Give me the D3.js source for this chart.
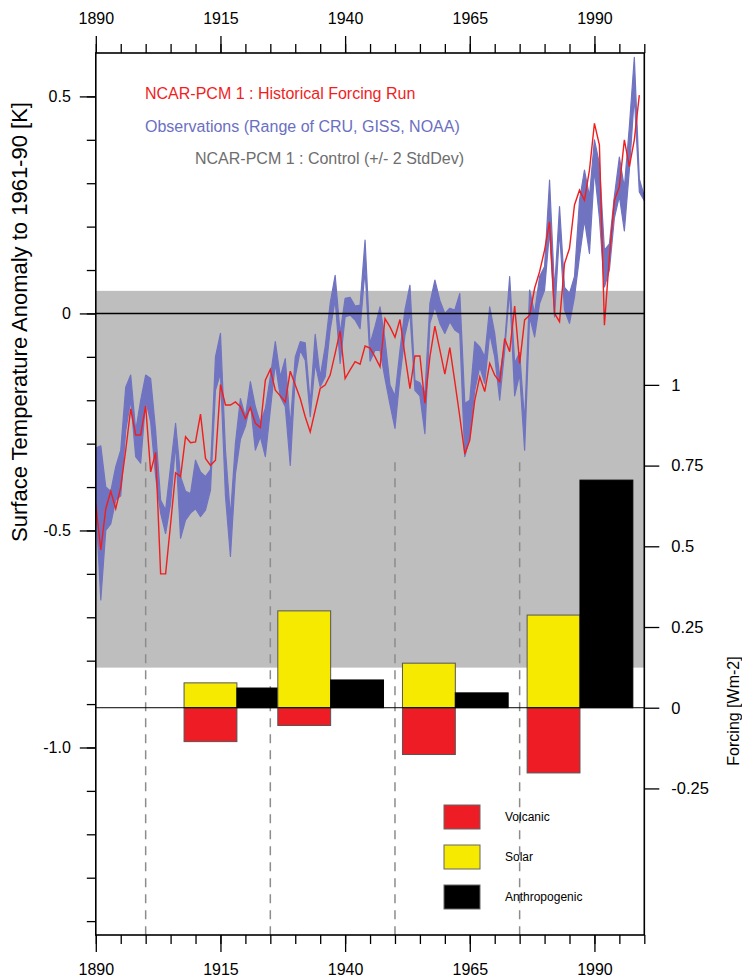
<!DOCTYPE html>
<html><head><meta charset="utf-8">
<script src="https://cdn.jsdelivr.net/npm/d3@7"></script>
<style>
body{margin:0;background:#fff}
text{font-family:"Liberation Sans",Arial,Helvetica,sans-serif}
</style>
</head><body>
<svg id="chart" width="742" height="979"></svg>
<script>
// ---------------- data ----------------
const modelYears = d3.range(1890, 2000);
const obsYears = d3.range(1890, 2001);
const modelRun = [
 -0.44,-0.545,-0.45,-0.41,-0.45,-0.40,-0.315,-0.22,-0.28,-0.28,
 -0.213,-0.365,-0.32,-0.60,-0.60,-0.485,-0.367,-0.376,-0.284,-0.298,
 -0.296,-0.232,-0.334,-0.35,-0.338,-0.164,-0.211,-0.211,-0.204,-0.215,
 -0.242,-0.217,-0.253,-0.263,-0.154,-0.129,-0.177,-0.19,-0.204,-0.133,
 -0.165,-0.196,-0.238,-0.273,-0.223,-0.173,-0.165,-0.142,-0.092,-0.04,
 -0.15,-0.13,-0.111,-0.117,-0.075,-0.08,-0.10,-0.123,-0.012,-0.031,
 -0.055,-0.014,-0.096,-0.173,-0.098,-0.098,-0.207,-0.10,-0.029,-0.084,
 -0.14,-0.079,-0.157,-0.238,-0.324,-0.292,-0.20,-0.146,-0.18,-0.115,
 -0.142,-0.157,-0.058,-0.088,0.017,-0.115,-0.015,-0.004,0.058,0.096,
 0.146,0.211,0.0,-0.019,0.115,0.15,0.25,0.284,0.261,0.33,
 0.438,0.388,-0.027,0.13,0.261,0.292,0.40,0.338,0.40,0.503
];
const obsHigh = [
 -0.31,-0.305,-0.40,-0.41,-0.353,-0.315,-0.17,-0.142,-0.27,-0.20,
 -0.142,-0.15,-0.27,-0.43,-0.453,-0.353,-0.253,-0.376,-0.41,-0.415,
 -0.338,-0.365,-0.376,-0.36,-0.10,-0.046,-0.315,-0.468,-0.30,-0.196,
 -0.238,-0.157,-0.215,-0.253,-0.219,-0.146,-0.065,-0.146,-0.104,-0.26,
 -0.10,-0.065,-0.068,-0.207,-0.048,-0.146,-0.077,0.023,0.088,-0.046,
 0.035,0.037,0.017,0.019,0.169,-0.07,-0.03,0.015,-0.06,-0.165,
 -0.19,-0.085,0.008,0.065,-0.154,-0.16,-0.185,0.023,0.077,0.03,
 0.0,0.012,0.008,0.046,-0.207,-0.2,-0.065,-0.077,-0.1,0.015,
 -0.046,-0.146,-0.069,0.085,-0.115,-0.09,-0.25,0.054,0.0,0.085,
 0.108,0.307,0.054,0.246,0.06,0.046,0.085,0.26,0.33,0.27,
 0.40,0.345,0.146,0.16,0.27,0.36,0.29,0.43,0.59,0.31,
 0.27
];
const obsLow = [
 -0.44,-0.66,-0.50,-0.485,-0.43,-0.42,-0.27,-0.20,-0.33,-0.345,
 -0.20,-0.25,-0.376,-0.46,-0.507,-0.438,-0.30,-0.518,-0.476,-0.46,
 -0.45,-0.468,-0.453,-0.407,-0.177,-0.138,-0.42,-0.56,-0.37,-0.29,
 -0.26,-0.207,-0.315,-0.284,-0.33,-0.223,-0.115,-0.192,-0.215,-0.35,
 -0.146,-0.085,-0.108,-0.238,-0.115,-0.169,-0.146,-0.038,0.031,-0.115,
 -0.008,-0.004,-0.015,-0.035,0.10,-0.11,-0.085,-0.085,-0.15,-0.21,
 -0.265,-0.146,-0.05,0.0,-0.177,-0.19,-0.277,-0.023,0.015,-0.023,
 -0.046,-0.019,-0.038,-0.046,-0.33,-0.285,-0.177,-0.123,-0.161,-0.046,
 -0.1,-0.2,-0.085,0.054,-0.19,-0.14,-0.315,-0.008,-0.054,0.023,
 0.054,0.19,-0.008,0.19,0.008,-0.023,0.038,0.13,0.215,0.138,
 0.33,0.22,0.061,0.10,0.22,0.27,0.19,0.33,0.50,0.28,
 0.26
];
const controlBand = [0.052, -0.816];      // K, +/- 2 StdDev band of control run
const periodStarts = [1900, 1925, 1950, 1975];
const barStartYears = [1907.7, 1926.5, 1951.5, 1976.5];
const solar = [0.077, 0.30, 0.138, 0.287];
const volcanic = [-0.105, -0.055, -0.145, -0.202];
const anthropogenic = [0.061, 0.086, 0.046, 0.705];
const yearTicks = [1890, 1915, 1940, 1965, 1990];
const tempTicks = [0.5, 0, -0.5, -1.0];
const tempTickLabels = ["0.5", "0", "-0.5", "-1.0"];
const forcingTicks = [1, 0.75, 0.5, 0.25, 0, -0.25];
const forcingTickLabels = ["1", "0.75", "0.5", "0.25", "0", "-0.25"];
const legendNames = ["Volcanic", "Solar", "Anthropogenic"];
const titleLines = ["NCAR-PCM 1 : Historical Forcing Run",
                    "Observations (Range of CRU, GISS, NOAA)",
                    "NCAR-PCM 1 : Control (+/- 2 StdDev)"];

// ---------------- layout & style ----------------
const C = {red:"#ee1c24", line:"#f01e1e", blue:"#7074c0", gray:"#bebebe",
           yellow:"#f6ea00", black:"#000000", barStroke:"#555",
           obsText:"#6b6fc2", ctrlText:"#6e6e6e"};
const L = 95.8, R = 644.3, T = 53, B = 935;

const svg = d3.select("#chart");
const x = d3.scaleLinear().domain([1890, 2000]).range([L, R]);
const yT = d3.scaleLinear().domain([-1.432, 0.6]).range([B, T]);
const yF = d3.scaleLinear().domain([-0.704, 2.028]).range([B, T]);

const plot = svg.append("g");
plot.append("rect").attr("x", L).attr("width", R - L)
  .attr("y", yT(controlBand[0])).attr("height", yT(controlBand[1]) - yT(controlBand[0]))
  .attr("fill", C.gray);

const obs = obsYears.map((yr, i) => ({yr, hi: obsHigh[i], lo: obsLow[i]}));
plot.append("path").datum(obs)
  .attr("d", d3.area().x(d => x(d.yr)).y0(d => yT(d.lo)).y1(d => yT(d.hi)))
  .attr("fill", C.blue).attr("stroke", C.blue).attr("stroke-width", 1.2)
  .attr("stroke-linejoin", "round");

const model = modelYears.map((yr, i) => ({yr, v: modelRun[i]}));
plot.append("path").datum(model)
  .attr("d", d3.line().x(d => x(d.yr)).y(d => yT(d.v)))
  .attr("fill", "none").attr("stroke", C.line).attr("stroke-width", 1.4);

plot.append("line").attr("x1", L).attr("x2", R).attr("y1", yT(0)).attr("y2", yT(0))
  .attr("stroke", "#000").attr("stroke-width", 1.5);

const dashTop = yT(-0.343);
plot.selectAll("line.sep").data(periodStarts).join("line").attr("class", "sep")
  .attr("x1", d => x(d)).attr("x2", d => x(d)).attr("y1", dashTop).attr("y2", B)
  .attr("stroke", "#8c8c8c").attr("stroke-width", 1.5).attr("stroke-dasharray", "9,7");

const barW = 10.6;   // years per bar
const groups = barStartYears.map((p, i) => ({p, s: solar[i], v: volcanic[i], a: anthropogenic[i]}));
const bars = plot.append("g");
groups.forEach(g => {
  const items = [
    {x0: g.p, x1: g.p + barW, v: g.v, c: C.red},
    {x0: g.p, x1: g.p + barW, v: g.s, c: C.yellow},
    {x0: g.p + barW, x1: g.p + 2 * barW, v: g.a, c: C.black}
  ];
  items.forEach(it => {
    bars.append("rect")
      .attr("x", x(it.x0)).attr("width", x(it.x1) - x(it.x0))
      .attr("y", Math.min(yF(0), yF(it.v))).attr("height", Math.abs(yF(it.v) - yF(0)))
      .attr("fill", it.c).attr("stroke", it.c === C.black ? "#000" : C.barStroke).attr("stroke-width", 1);
  });
});
plot.append("line").attr("x1", L).attr("x2", R).attr("y1", yF(0)).attr("y2", yF(0))
  .attr("stroke", "#000").attr("stroke-width", 1);

svg.append("rect").attr("x", L).attr("y", T).attr("width", R - L).attr("height", B - T)
  .attr("fill", "none").attr("stroke", "#000").attr("stroke-width", 1.6);

// ---------------- axes ----------------
function styleAxis(g, fs) {
  g.select(".domain").remove();
  g.selectAll(".tick line").attr("stroke", "#000").attr("stroke-width", 1.3);
  g.selectAll("text").attr("font-size", fs).attr("fill", "#000")
    .attr("font-family", '"Liberation Sans",Arial,sans-serif');
}
const minorYears = d3.range(1890, 2001, 5);
const fmtYear = d3.format("d");
svg.append("g").attr("transform", `translate(0,${T})`)
  .call(d3.axisTop(x).tickValues(minorYears).tickSize(9).tickFormat(""))
  .call(g => styleAxis(g, 16));
svg.append("g").attr("transform", `translate(0,${T})`)
  .call(d3.axisTop(x).tickValues(yearTicks).tickSize(17).tickPadding(12).tickFormat(fmtYear))
  .call(g => styleAxis(g, 16));
svg.append("g").attr("transform", `translate(0,${B})`)
  .call(d3.axisBottom(x).tickValues(minorYears).tickSize(9).tickFormat(""))
  .call(g => styleAxis(g, 16));
svg.append("g").attr("transform", `translate(0,${B})`)
  .call(d3.axisBottom(x).tickValues(yearTicks).tickSize(17).tickPadding(12).tickFormat(fmtYear))
  .call(g => styleAxis(g, 16));
const minorTemp = d3.range(-14, 6).map(d => d / 10);
svg.append("g").attr("transform", `translate(${L},0)`)
  .call(d3.axisLeft(yT).tickValues(minorTemp).tickSize(9).tickFormat(""))
  .call(g => styleAxis(g, 16));
svg.append("g").attr("transform", `translate(${L},0)`)
  .call(d3.axisLeft(yT).tickValues(tempTicks).tickSize(16).tickPadding(9)
        .tickFormat((d, i) => tempTickLabels[i]))
  .call(g => styleAxis(g, 16));
svg.append("g").attr("transform", `translate(${R},0)`)
  .call(d3.axisRight(yF).tickValues(forcingTicks).tickSize(15).tickPadding(12)
        .tickFormat((d, i) => forcingTickLabels[i]))
  .call(g => styleAxis(g, 16.5));

svg.append("text").attr("transform", `translate(27,322) rotate(-90)`)
  .attr("text-anchor", "middle").attr("font-size", 22).attr("fill", "#000")
  .text("Surface Temperature Anomaly to 1961-90 [K]");
svg.append("text").attr("transform", `translate(739,711) rotate(-90)`)
  .attr("text-anchor", "middle").attr("font-size", 16).attr("fill", "#000")
  .text("Forcing [Wm-2]");

const tcol = [C.line, C.obsText, C.ctrlText];
const tx = [145, 145, 195], ty = [99, 132, 164];
titleLines.forEach((t, i) => {
  svg.append("text").attr("x", tx[i]).attr("y", ty[i]).attr("font-size", 16)
    .attr("fill", tcol[i]).text(t);
});

const legColors = [C.red, C.yellow, C.black];
const leg = svg.append("g").attr("transform", "translate(444,805)");
legendNames.forEach((n, i) => {
  leg.append("rect").attr("x", 0).attr("y", i * 40).attr("width", 36).attr("height", 24)
    .attr("fill", legColors[i]).attr("stroke", "#666").attr("stroke-width", 1);
  leg.append("text").attr("x", 61).attr("y", i * 40 + 16).attr("font-size", 12)
    .attr("fill", "#000").text(n);
});
</script>
</body></html>
